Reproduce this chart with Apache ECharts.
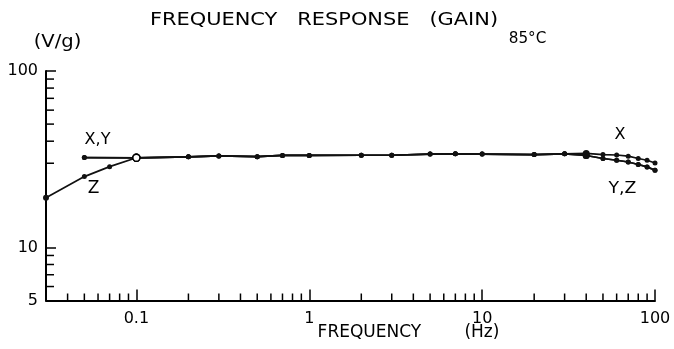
<!DOCTYPE html>
<html><head><meta charset="utf-8">
<script src="https://cdn.jsdelivr.net/npm/echarts@6/dist/echarts.min.js"></script>
<style>html,body{margin:0;padding:0;background:#fff}#c{width:674px;height:349px}</style>
</head><body><div id="c"></div>
<script>
// ---- data (frequency in Hz, gain in V/g) ----
const freqLowXY = [0.05, 0.1];
const gainLowXY = [32.3, 32.2];
const freqLowZ = [0.03, 0.05, 0.07, 0.1];
const gainLowZ = [19.1, 25.2, 28.7, 32.2];
const freqMid = [0.2, 0.3, 0.5, 0.7, 1, 2, 3, 5, 7, 10, 20, 30];
const gainMid = [32.6, 33.0, 32.7, 33.2, 33.2, 33.3, 33.3, 33.8, 33.9, 33.8, 33.6, 33.9];
const freqHigh = [40, 50, 60, 70, 80, 90, 100];
const gainHighX = [34.1, 33.6, 33.4, 32.9, 31.9, 31.2, 30.1];
const gainHighYZ = [33.2, 31.9, 31.2, 30.5, 29.5, 28.6, 27.4];

// axis ranges and tick labels
const xMin = 0.03, xMax = 100;
const yMin = 5, yMax = 100;
const xMinorTicks = [0.04,0.05,0.06,0.07,0.08,0.09, 0.2,0.3,0.4,0.5,0.6,0.7,0.8,0.9, 2,3,4,5,6,7,8,9, 20,30,40,50,60,70,80,90];
const yMinorTicks = [6,7,8,9, 30,40,50,60,70,80,90];

const FONT = '"DejaVu Sans", "Liberation Sans", sans-serif';

function zip(fs, gs) { return fs.map((f, i) => [f, gs[i]]); }
function styled(points) {
  return points.map(p => {
    if (p[0] === 0.1) return { value: p, symbolSize: 7, itemStyle: { color: '#fff', borderColor: '#000', borderWidth: 1.4 } };
    if (p[0] === 40) return { value: p, symbolSize: 7 };
    if (p[0] === 0.03) return { value: p, symbolSize: 6 };
    return { value: p };
  });
}
const dataX = styled(zip(freqLowXY, gainLowXY).concat(zip(freqMid, gainMid), zip(freqHigh, gainHighX)));
const dataY = styled(zip(freqLowXY, gainLowXY).concat(zip(freqMid, gainMid), zip(freqHigh, gainHighYZ)));
const dataZ = styled(zip(freqLowZ, gainLowZ).concat(zip(freqMid, gainMid), zip(freqHigh, gainHighYZ)));

function lineSeries(name, data) {
  return {
    name, type: 'line', data,
    symbol: 'circle', symbolSize: 5,
    lineStyle: { color: '#111', width: 1.7 },
    itemStyle: { color: '#111' },
    z: 3
  };
}

function txt(text, x, y, size, scaleX) {
  return {
    type: 'text', x, y, scaleX: scaleX || 1, silent: true,
    style: { text, fill: '#000', font: size + 'px ' + FONT, align: 'center', verticalAlign: 'middle' }
  };
}

const chart = echarts.init(document.getElementById('c'));
chart.setOption({
  animation: false,
  backgroundColor: '#fff',
  grid: { left: 46, right: 19, top: 71, bottom: 48.5, containLabel: false },
  xAxis: {
    type: 'log', logBase: 10, min: xMin, max: xMax,
    axisLine: { onZero: false, lineStyle: { color: '#000', width: 2 } },
    axisTick: { inside: true, length: 11, lineStyle: { color: '#000', width: 1.5 } },
    splitLine: { show: false },
    axisLabel: {
      color: '#000', fontSize: 16, fontFamily: FONT, margin: 10,
      formatter: v => { const l = Math.log10(v); return Math.abs(l - Math.round(l)) < 1e-6 ? String(v) : ''; }
    }
  },
  yAxis: {
    type: 'log', logBase: 10, min: yMin, max: yMax,
    axisLine: { onZero: false, lineStyle: { color: '#000', width: 2 } },
    axisTick: { inside: true, length: 10, lineStyle: { color: '#000', width: 1.5 } },
    splitLine: { show: false },
    axisLabel: { color: '#000', fontSize: 16, fontFamily: FONT, margin: 8 }
  },
  series: [
    lineSeries('X', dataX),
    lineSeries('Y', dataY),
    lineSeries('Z', dataZ),
    {
      type: 'custom', silent: true, clip: false, z: 2,
      data: xMinorTicks.map(v => [v, yMin]),
      encode: { x: 0, y: 1 },
      renderItem: (params, api) => {
        const p = api.coord([api.value(0), yMin]);
        return { type: 'line', shape: { x1: p[0], y1: p[1], x2: p[0], y2: p[1] - 7 }, style: { stroke: '#000', lineWidth: 1.5 } };
      }
    },
    {
      type: 'custom', silent: true, clip: false, z: 2,
      data: yMinorTicks.map(v => [xMin, v]),
      encode: { x: 0, y: 1 },
      renderItem: (params, api) => {
        const p = api.coord([xMin, api.value(1)]);
        return { type: 'line', shape: { x1: p[0], y1: p[1], x2: p[0] + 8, y2: p[1] }, style: { stroke: '#000', lineWidth: 1.5 } };
      }
    }
  ],
  graphic: [
    txt('FREQUENCY   RESPONSE   (GAIN)', 324, 21, 17, 1.23),
    txt('(V/g)', 57.5, 43, 17, 1.15),
    txt('85°C', 527.5, 39, 16, 0.95),
    txt('X,Y', 97.5, 140, 16, 1),
    txt('Z', 93.5, 188.5, 17, 1),
    txt('X', 620, 135, 16, 1),
    txt('Y,Z', 622.5, 188.5, 16, 1.08),
    txt('FREQUENCY        (Hz)', 408.5, 333, 17, 1)
  ]
});
</script>
</body></html>
